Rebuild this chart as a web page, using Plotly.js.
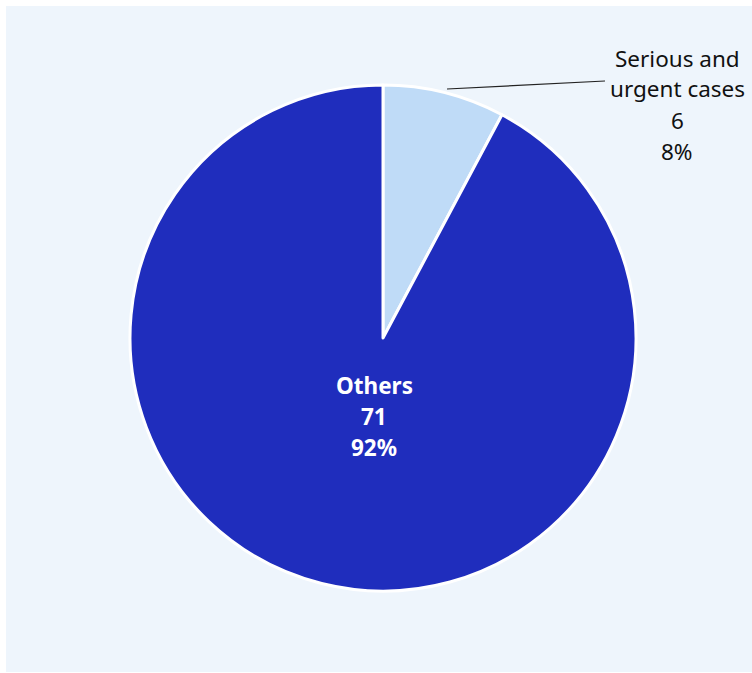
<!DOCTYPE html>
<html>
<head>
<meta charset="utf-8">
<script src="https://cdn.plot.ly/plotly-3.0.1.min.js"></script>
<style>
html, body { margin: 0; padding: 0; background: #ffffff; }
#chart { position: absolute; left: 6px; top: 6px; width: 746px; height: 666px; }
</style>
</head>
<body>
<div id="chart"></div>
<script>
const categories = ["Serious and<br>urgent cases", "Others"];
const values = [6, 71];
const colors = ["#bfdbf7", "#1f2dbd"];

const W = 746, H = 666;
const M = { l: 124, r: 116, t: 79, b: 81 };
const px = x => (x - M.l) / (W - M.l - M.r);
const py = y => 1 - (y - M.t) / (H - M.t - M.b);

const total = values.reduce((a, b) => a + b, 0);
const pctText = v => Math.round(v / total * 100) + "%";
const labelLines = i => categories[i].split("<br>").concat([String(values[i]), pctText(values[i])]);

// label block anchors (pixel centre x, centre y of first line), line spacing
const LINE = 31;
const labelPos = [
  { x: 671, y: 52, font: { family: "Noto Sans", size: 22.5, color: "#111111" } },
  { x: 368, y: 379, font: { family: "Noto Sans", size: 22.5, color: "#ffffff", weight: "bold" } }
];

const annotations = [];
labelPos.forEach((p, i) => {
  labelLines(i).forEach((t, k) => {
    annotations.push({
      xref: "paper", yref: "paper", x: px(p.x), y: py(p.y + k * LINE),
      xanchor: "center", yanchor: "middle", align: "center",
      showarrow: false, text: t, font: p.font
    });
  });
});

const trace = {
  type: "pie",
  labels: categories,
  values: values,
  sort: false,
  direction: "clockwise",
  rotation: 0,
  textinfo: "none",
  marker: { colors: colors, line: { color: "#ffffff", width: 3 } },
  showlegend: false,
  hoverinfo: "label+value+percent"
};

const layout = {
  width: W,
  height: H,
  paper_bgcolor: "#eef5fc",
  margin: M,
  font: { family: "Noto Sans", size: 23, color: "#111111" },
  showlegend: false,
  shapes: [{
    type: "line", xref: "paper", yref: "paper",
    x0: px(441), y0: py(83), x1: px(599), y1: py(75),
    line: { color: "#222222", width: 1.2 }
  }],
  annotations: annotations
};

Plotly.newPlot("chart", [trace], layout, { displayModeBar: false, staticPlot: true });
</script>
</body>
</html>
